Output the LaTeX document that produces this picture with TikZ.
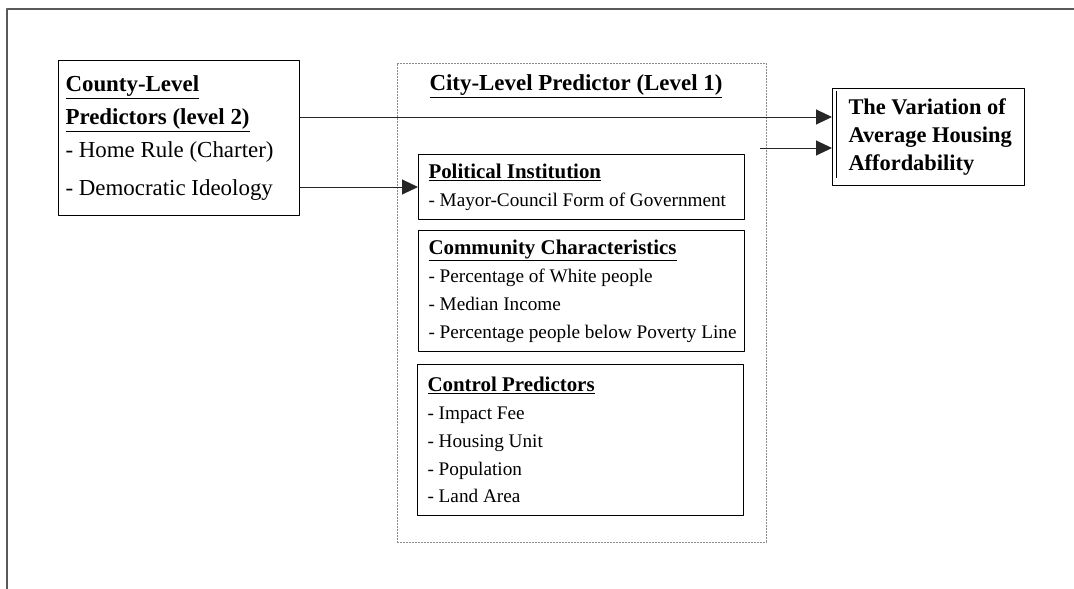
\documentclass[tikz,border=0pt]{standalone}
\usepackage{fontspec}
\setmainfont{Liberation Serif}
\usetikzlibrary{arrows.meta}
\newcommand{\headtxt}[1]{\textbf{\underline{#1}}}
\newcommand{\subhead}[1]{{\fontsize{21}{28}\selectfont\headtxt{#1}}}
\begin{document}
\begin{tikzpicture}[>={Triangle[length=16bp,width=15bp]},line join=bevel,
  box/.style={draw=black,line width=1bp,rectangle,anchor=north west,align=flush left,inner ysep=0bp},
  itemfont/.style={font=\fontsize{19.3}{28}\selectfont},
  link/.style={->,line width=1bp,draw=black!85}]
\useasboundingbox (0bp,0bp) rectangle (1074bp,-589bp);
%%
\draw [line width=1.2bp,black!65] (7bp,-589bp) -- (7bp,-9bp) -- (1074bp,-9bp);
  \node (city) at (397bp,-63bp) [draw=black!45,dash pattern=on 2bp off 1bp,line width=0.6bp,rectangle,anchor=north west,minimum width=369bp,minimum height=479bp,inner sep=0bp] {};
  \node (city_title) at (576bp,-86bp) [font=\fontsize{23}{28}\selectfont] {\headtxt{City-Level Predictor (Level 1)}};
  \node (county) at (58bp,-60bp) [box,minimum width=241bp,minimum height=155bp,text width=227bp,inner xsep=7bp,font=\fontsize{23}{33}\selectfont] {\headtxt{County-Level}\\ \headtxt{Predictors (level 2)}\\ - Home Rule (Charter)\\[5bp] - Democratic Ideology};
  \node (polit) at (418bp,-154bp) [box,itemfont,minimum width=326bp,minimum height=65bp,text width=306bp,inner xsep=10bp] {\subhead{Political Institution}\\ - Mayor-Council Form of Government};
  \node (commun) at (418bp,-230bp) [box,itemfont,minimum width=326bp,minimum height=121bp,text width=306bp,inner xsep=10bp] {\subhead{Community Characteristics}\\ - Percentage of White people\\ - Median Income\\ \mbox{- Percentage people below Poverty Line}};
  \node (control) at (417bp,-364bp) [box,itemfont,minimum width=326bp,minimum height=151bp,text width=306bp,inner xsep=10bp] {\subhead{Control Predictors}\\ - Impact Fee\\ - Housing Unit\\ - Population\\ - Land Area};
  \node (out) at (832bp,-88bp) [box,minimum width=192bp,minimum height=97bp,text width=184bp,inner xsep=4bp,font=\fontsize{22.5}{28.5}\selectfont\bfseries] {\hspace*{12bp}The Variation of\\ \hspace*{12bp}Average Housing\\ \hspace*{12bp}Affordability};
  \coordinate (city_out) at (760bp,-148bp);
  \draw [line width=0.8bp] ([xshift=4bp,yshift=-3bp]out.north west) -- ([xshift=4bp,yshift=8bp]out.south west);
  \draw [link] ([yshift=21bp]county.east) -- ([yshift=21bp]county.east -| out.west);
  \draw [link] (county.east |- polit.west) -- (polit.west);
  \draw [link] (city_out) -- (city_out -| out.west);
%
\end{tikzpicture}
\end{document}
